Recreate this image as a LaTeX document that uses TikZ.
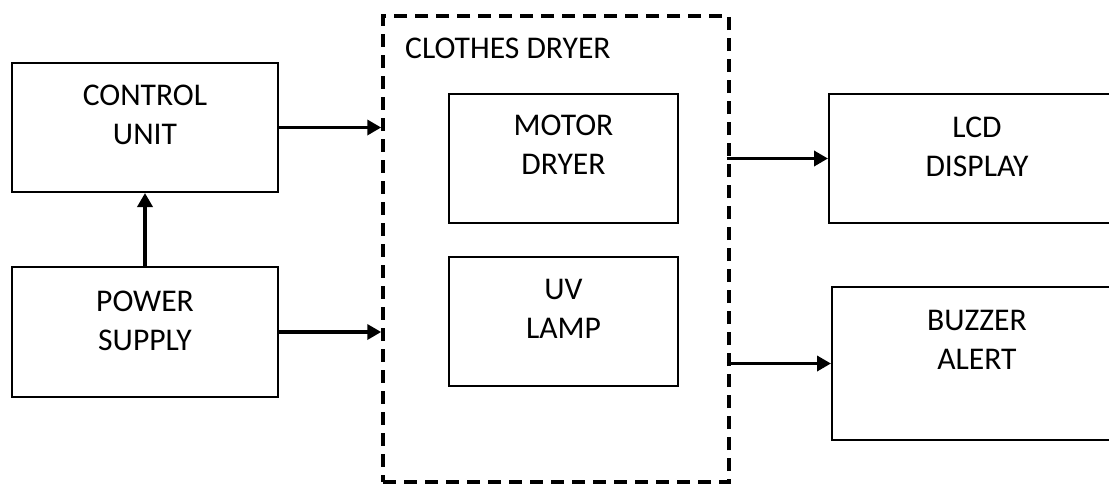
\documentclass[tikz,border=0pt]{standalone}
\usepackage{fontspec}
\setmainfont{Carlito}
\usetikzlibrary{arrows.meta}
\tikzset{
  blk/.style={draw=black, line width=2pt, rectangle, inner sep=0pt},
  grp/.style={draw=black, line width=3.5pt, dash pattern=on 13pt off 8pt, rectangle, inner sep=0pt},
  lbl/.style={inner sep=0pt, align=center, anchor=north, font=\fontsize{31.6}{39}\selectfont},
  arr/.style={line width=3.5pt, -{Triangle[length=14pt,width=15pt]}}
}
\begin{document}
\begin{tikzpicture}[x=1pt,y=-1pt]
\clip (0,0) rectangle (1109,485);
\fill[white] (0,0) rectangle (1109,485);
% boxes
\node[blk, minimum width=266pt, minimum height=129pt] (ctrl) at (145,127.5) {};
\node[blk, minimum width=266pt, minimum height=130pt] (pow) at (145,332) {};
\node[grp, minimum width=346pt, minimum height=466pt] (dryer) at (556,249) {};
\node[blk, minimum width=229pt, minimum height=129pt] (motor) at (563.5,158.5) {};
\node[blk, minimum width=229pt, minimum height=129pt] (uv) at (563.5,321.5) {};
\node[blk, minimum width=296pt, minimum height=129pt] (lcd) at (977,158.5) {};
\node[blk, minimum width=290pt, minimum height=153pt] (buzz) at (977,363.5) {};
% labels
\node[lbl] (ctrlt) at (145,85) {CONTROL\\UNIT};
\node[lbl] (powt) at (145,291) {POWER\\SUPPLY};
\node[lbl] (motort) at (563.5,115) {MOTOR\\DRYER};
\node[lbl] (uvt) at (563.5,279) {UV\\LAMP};
\node[lbl] (lcdt) at (977,117) {LCD\\DISPLAY};
\node[lbl] (buzzt) at (977,310) {BUZZER\\ALERT};
\node[lbl, anchor=north west] (dryert) at (405,38) {CLOTHES DRYER};
% connectors
\draw[arr] (ctrl.east) -- (ctrl.east -| dryer.west);
\draw[arr] (pow.east) -- (pow.east -| dryer.west);
\draw[arr] (pow.north) -- (ctrl.south);
\draw[arr] ([xshift=-4pt]dryer.east |- lcd.west) -- (lcd.west);
\draw[arr] ([xshift=-4pt]dryer.east |- buzz.west) -- (buzz.west);
\end{tikzpicture}
\end{document}
